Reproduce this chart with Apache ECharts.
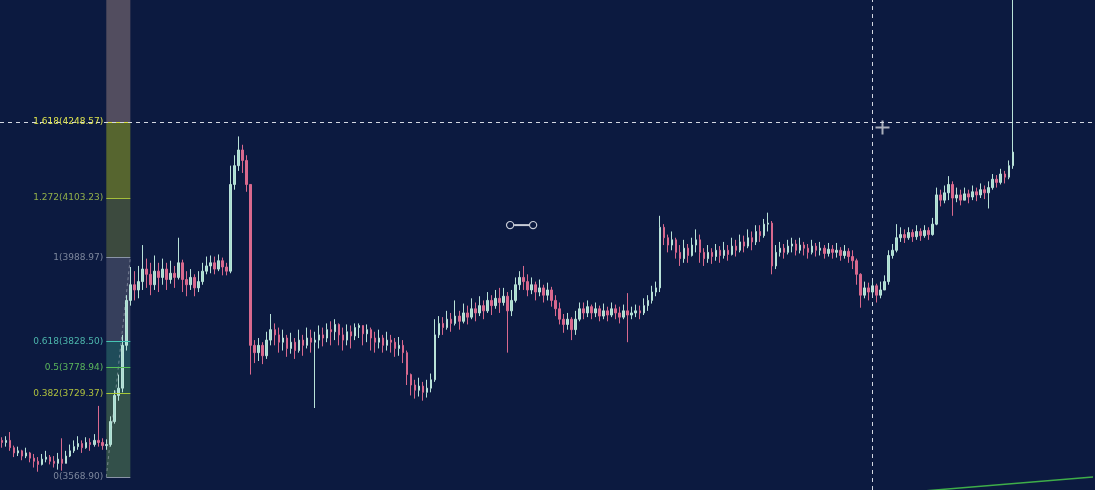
<!DOCTYPE html>
<html>
<head>
<meta charset="utf-8">
<script src="https://cdn.jsdelivr.net/npm/echarts@6/dist/echarts.min.js"></script>
<style>
html,body{margin:0;padding:0;background:#0c1a40;}
#chart{width:1095px;height:490px;}
</style>
</head>
<body>
<div id="chart"></div>
<script>
// ---- data (prices) ----
const firstOpen = 3639;
const closes = [
3635,3639,3625,3615,3619,3609,3615,3605,3599,3593,
3603,3607,3599,3595,3603,3595,3609,3619,3627,3633,
3625,3635,3631,3639,3635,3629,3631,3675,3725,3739,
3821,3907,3937,3927,3943,3967,3957,3937,3963,3951,
3967,3947,3959,3951,3979,3947,3937,3951,3931,3943,
3963,3973,3979,3967,3983,3971,3963,4129,4165,4195,
4175,4129,3821,3807,3821,3801,3831,3851,3841,3827,
3835,3815,3827,3811,3831,3821,3835,3827,3831,3841,
3835,3851,3847,3861,3841,3831,3847,3839,3855,3859,
3843,3851,3835,3827,3835,3821,3831,3827,3815,3821,
3807,3765,3745,3735,3743,3731,3739,3755,3841,3863,
3855,3871,3863,3877,3867,3883,3875,3891,3883,3897,
3887,3907,3897,3911,3903,3915,3887,3907,3937,3951,
3943,3927,3937,3923,3931,3917,3927,3907,3891,3871,
3861,3871,3851,3871,3891,3883,3895,3883,3891,3877,
3887,3879,3891,3883,3875,3887,3879,3883,3887,3883,
3897,3907,3923,3931,4047,4027,4013,4023,3999,3987,
4007,3993,4013,4023,3999,3987,3999,3991,4003,3993,
4003,3995,4011,4003,4019,4011,4027,4019,4039,4031,
4053,4055,3973,3999,4007,3999,4011,4015,4003,4013,
4007,3999,4011,4003,4007,3997,4005,3999,4003,3993,
4001,3991,3983,3957,3917,3931,3923,3935,3917,3927,
3943,3993,4003,4027,4033,4027,4037,4029,4039,4031,
4041,4033,4053,4109,4099,4113,4129,4103,4109,4099,
4111,4105,4115,4109,4119,4113,4123,4139,4133,4149,
4143,4165,4191
];
const highs = [
3645,3647,3655,3629,3627,3621,3625,3617,3613,3607,
3613,3619,3611,3609,3615,3643,3619,3631,3639,3647,
3639,3645,3643,3651,3705,3643,3641,3685,3735,3765,
3841,3917,3971,3963,3973,4013,3987,3979,3993,3979,
3987,3979,3983,3973,4027,3985,3963,3967,3957,3963,
3979,3991,3993,3991,3995,3989,3979,4165,4185,4221,
4205,4185,4129,3831,3835,3827,3847,3881,3863,3855,
3851,3841,3845,3835,3851,3841,3855,3851,3847,3859,
3855,3863,3867,3871,3863,3855,3861,3859,3863,3863,
3859,3861,3855,3847,3851,3841,3847,3841,3835,3837,
3831,3811,3767,3755,3759,3751,3755,3767,3871,3877,
3875,3887,3883,3907,3887,3901,3897,3911,3903,3915,
3907,3923,3917,3927,3931,3931,3923,3927,3951,3963,
3973,3957,3951,3943,3947,3937,3941,3933,3917,3903,
3881,3883,3875,3887,3903,3903,3907,3899,3903,3897,
3901,3895,3903,3899,3895,3899,3921,3895,3899,3897,
3911,3917,3935,3943,4069,4053,4033,4039,4027,4013,
4023,4015,4027,4043,4033,4007,4013,4007,4015,4011,
4019,4013,4027,4023,4033,4031,4043,4039,4051,4051,
4063,4075,4059,4013,4019,4015,4023,4027,4023,4027,
4019,4015,4023,4017,4019,4013,4017,4013,4017,4009,
4013,4007,4003,3987,3959,3943,3941,3947,3939,3943,
3955,4003,4015,4053,4047,4043,4047,4043,4051,4045,
4051,4047,4065,4123,4119,4127,4145,4135,4123,4119,
4123,4119,4127,4123,4131,4127,4135,4149,4147,4159,
4155,4175,4520
];
const lows = [
3625,3627,3619,3607,3609,3601,3605,3597,3587,3579,
3591,3597,3593,3587,3583,3581,3595,3607,3615,3621,
3615,3623,3619,3627,3627,3621,3621,3627,3671,3715,
3731,3811,3897,3907,3911,3927,3931,3917,3927,3923,
3937,3927,3939,3931,3947,3923,3915,3927,3915,3923,
3937,3957,3959,3957,3963,3955,3955,3959,4119,4155,
4151,4115,3765,3787,3791,3785,3795,3821,3821,3807,
3811,3799,3805,3795,3807,3801,3815,3807,3701,3815,
3819,3827,3821,3831,3821,3811,3821,3815,3831,3835,
3821,3827,3811,3807,3815,3807,3811,3807,3799,3801,
3787,3745,3725,3719,3723,3715,3721,3731,3751,3835,
3841,3851,3847,3859,3851,3863,3861,3871,3867,3877,
3871,3883,3879,3891,3883,3897,3807,3877,3903,3927,
3927,3915,3919,3907,3915,3903,3907,3895,3877,3861,
3845,3851,3831,3841,3867,3871,3875,3871,3875,3867,
3871,3867,3875,3871,3863,3871,3827,3871,3875,3871,
3879,3887,3901,3915,3923,4013,3999,4003,3987,3973,
3979,3979,3991,3999,3979,3973,3979,3977,3983,3979,
3987,3983,3993,3991,3999,3999,4007,4003,4013,4019,
4027,4039,3957,3967,3991,3987,3995,3999,3993,3997,
3993,3987,3995,3991,3993,3987,3991,3987,3989,3983,
3987,3979,3967,3937,3893,3911,3907,3915,3903,3911,
3927,3937,3987,3999,4019,4017,4023,4019,4023,4021,
4027,4023,4031,4051,4087,4093,4099,4069,4095,4089,
4099,4093,4099,4097,4103,4101,4083,4119,4123,4129,
4131,4139,4159
];
const slotCount = 273;
const categories = Array.from({length: slotCount}, (_, i) => String(i));

// Fibonacci tool
const fibRatios = ['0', '0.382', '0.5', '0.618', '1', '1.272', '1.618'];
const fibPrices = [3568.90, 3729.37, 3778.94, 3828.50, 3988.97, 4103.23, 4248.57];
const fibTopRatioPrice = 4668.64; // 2.618 level, above the visible area
const fibStartSlot = '26';
const fibEndSlot = '32';

// other drawings
const crosshairPrice = 4248.57;
const crosshairSlot = '217';
const trendLine = [['228', 3541], ['272', 3569]];

// ---- styles ----
const bg = '#0c1a40';
const fibLineColors = ['#8a94a8', '#a8c838', '#58c058', '#45c4b4', '#8a94a8', '#a4be3a', '#d8e040'];
const fibLabelColors = ['#7d879c', '#b0c23e', '#5cb85c', '#4db6ac', '#7d879c', '#93b04a', '#dfe44e'];
const fibBandColors = ['#33504a', '#254f4f', '#1f4c5a', '#363f5c', '#3c4a3e', '#56652f', '#524d5f'];

const candleData = closes.map((c, i) => [i === 0 ? firstOpen : closes[i - 1], c, lows[i], highs[i]]);

const bandPrices = fibPrices.concat([fibTopRatioPrice]);
const bandData = [];
for (let k = 0; k < fibBandColors.length; k++) {
  bandData.push([
    {coord: [fibStartSlot, bandPrices[k]], itemStyle: {color: fibBandColors[k], opacity: 1}},
    {coord: [fibEndSlot, bandPrices[k + 1]]}
  ]);
}
const levelData = fibPrices.map((p, k) => [
  {
    coord: [fibStartSlot, p],
    lineStyle: {color: fibLineColors[k], width: 1, type: 'solid'},
    label: {
      show: true, position: 'start', distance: 3,
      formatter: fibRatios[k] + '(' + p.toFixed(2) + ')',
      color: fibLabelColors[k], fontSize: 9, fontFamily: 'DejaVu Sans'
    }
  },
  {coord: [fibEndSlot, p]}
]);

const chart = echarts.init(document.getElementById('chart'), null, {renderer: 'canvas'});
chart.setOption({
  backgroundColor: bg,
  animation: false,
  grid: {left: 0, right: 0, top: 0, bottom: 0},
  xAxis: {type: 'category', data: categories, show: false, boundaryGap: true},
  yAxis: {type: 'value', min: 3544, max: 4482.2, show: false, splitLine: {show: false}},
  series: [
    {
      name: 'fib',
      type: 'line',
      z: 1,
      data: [[fibStartSlot, fibPrices[0]], [fibEndSlot, fibPrices[4]]],
      symbol: 'none',
      lineStyle: {color: 'rgba(200,205,215,0.45)', width: 1, type: [3, 3]},
      markArea: {silent: true, data: bandData},
      markLine: {silent: true, symbol: ['none', 'none'], data: levelData}
    },
    {
      name: 'price',
      type: 'candlestick',
      z: 3,
      barWidth: 2,
      data: candleData,
      itemStyle: {
        color: '#a6dccf', color0: '#d9698e',
        borderColor: '#b9e2d8', borderColor0: '#d9698e',
        borderWidth: 1
      }
    },
    {
      name: 'trend',
      type: 'line',
      z: 5,
      data: trendLine,
      symbol: 'none',
      lineStyle: {color: '#3fae49', width: 1.5},
      markLine: {
        silent: true,
        symbol: ['none', 'none'],
        label: {show: false},
        lineStyle: {color: '#d4d8e2', width: 1, type: [4, 4]},
        data: [{yAxis: crosshairPrice}, {xAxis: crosshairSlot}]
      }
    }
  ],
  graphic: [
    {
      type: 'group', left: 873, top: 118, silent: true,
      children: [
        {type: 'line', shape: {x1: 7, y1: 0, x2: 7, y2: 14}, style: {stroke: '#a9aebb', lineWidth: 2}},
        {type: 'line', shape: {x1: 0, y1: 7, x2: 14, y2: 7}, style: {stroke: '#a9aebb', lineWidth: 2}}
      ]
    },
    {
      type: 'group', left: 504, top: 219, silent: true,
      children: [
        {type: 'circle', shape: {cx: 5, cy: 5, r: 3.6}, style: {fill: 'none', stroke: '#c8ccd6', lineWidth: 1.2}},
        {type: 'line', shape: {x1: 9, y1: 5, x2: 24, y2: 5}, style: {stroke: '#c8ccd6', lineWidth: 2}},
        {type: 'circle', shape: {cx: 28, cy: 5, r: 3.6}, style: {fill: 'none', stroke: '#c8ccd6', lineWidth: 1.2}}
      ]
    }
  ]
});
</script>
</body>
</html>
